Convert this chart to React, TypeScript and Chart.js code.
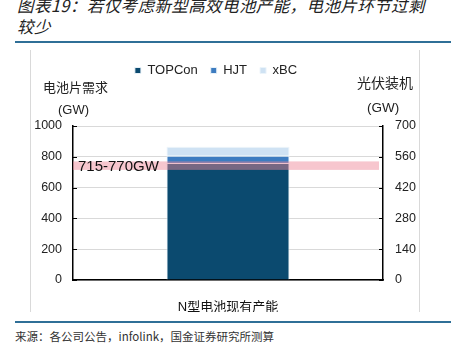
import React, { useEffect, useRef } from 'react';
import { Chart, registerables } from 'chart.js';

Chart.register(...registerables);

// ---- data ----
const categories = ['N型电池现有产能'];
const topconValues = [760];
const hjtValues = [47];
const xbcValues = [58];
const seriesNames = ['TOPCon', 'HJT', 'xBC'];
const bandRange = [715, 770];
const bandLabel = '715-770GW';
const leftAxisMax = 1000;
const leftAxisStep = 200;
const rightAxisMax = 700;
const rightAxisStep = 140;
const leftTitle = ['电池片需求', '(GW)'];
const rightTitle = ['光伏装机', '(GW)'];
const titleLines = ['图表19：若仅考虑新型高效电池产能，电池片环节过剩', '较少'];
const sourceText = '来源：各公司公告，infolink，国金证券研究所测算';

const FONT = '"Liberation Sans", "Noto Sans CJK SC", sans-serif';
const CANVAS_LEFT = 13;
const CANVAS_TOP = 51;
const CANVAS_W = 406;
const CANVAS_H = 261;
const PLOT_LEFT = 73;
const PLOT_RIGHT = 383;
const PLOT_TOP = 126;
const PLOT_BOTTOM = 280;

const overlayPlugin = {
  id: 'overlay',
  afterDatasetsDraw(chart: any) {
    const { ctx, chartArea, scales } = chart;
    const y = scales.y;
    const top = y.getPixelForValue(bandRange[1]);
    const bottom = y.getPixelForValue(bandRange[0]);
    ctx.save();
    ctx.fillStyle = 'rgba(238,135,152,0.48)';
    ctx.fillRect(chartArea.left, top, chartArea.right - 4 - chartArea.left, bottom - top);
    ctx.fillStyle = '#111';
    ctx.font = '15px ' + FONT;
    ctx.textBaseline = 'middle';
    ctx.textAlign = 'left';
    ctx.fillText(bandLabel, chartArea.left + 5, (top + bottom) / 2 + 1);
    // inward tick marks
    ctx.strokeStyle = '#000';
    ctx.lineWidth = 1;
    for (let v = 0; v <= leftAxisMax; v += leftAxisStep) {
      const py = Math.round(y.getPixelForValue(v)) + 0.5;
      ctx.beginPath();
      ctx.moveTo(chartArea.left, py);
      ctx.lineTo(chartArea.left + 4, py);
      ctx.stroke();
    }
    const y1 = scales.y1;
    for (let v = 0; v <= rightAxisMax; v += rightAxisStep) {
      const py = Math.round(y1.getPixelForValue(v)) + 0.5;
      ctx.beginPath();
      ctx.moveTo(chartArea.right - 4, py);
      ctx.lineTo(chartArea.right, py);
      ctx.stroke();
    }
    ctx.restore();
  },
};

const legendHeightPlugin = {
  id: 'legendHeight',
  beforeInit(chart: any) {
    const origFit = chart.legend.fit;
    chart.legend.fit = function () {
      origFit.call(this);
      this.height = PLOT_TOP - CANVAS_TOP;
    };
  },
};

export default function App() {
  const ref = useRef<HTMLCanvasElement>(null);

  useEffect(() => {
    if (!ref.current) return;
    const chart = new Chart(ref.current, {
      type: 'bar',
      data: {
        labels: categories,
        datasets: [
          { label: seriesNames[0], data: topconValues, backgroundColor: '#0B4A6F', borderColor: 'rgba(235,243,250,0.95)', borderWidth: 1, yAxisID: 'y' },
          { label: seriesNames[1], data: hjtValues, backgroundColor: '#3D7CC0', borderColor: 'rgba(235,243,250,0.95)', borderWidth: 1, yAxisID: 'y' },
          { label: seriesNames[2], data: xbcValues, backgroundColor: '#CFE2F3', borderColor: 'rgba(235,243,250,0.95)', borderWidth: 1, yAxisID: 'y' },
        ],
      },
      options: {
        responsive: false,
        animation: false,
        devicePixelRatio: 1,
        layout: { padding: 0 },
        datasets: { bar: { categoryPercentage: 1, barPercentage: 0.397 } },
        plugins: {
          tooltip: { enabled: false },
          legend: {
            position: 'top',
            labels: {
              boxWidth: 6,
              boxHeight: 6,
              padding: 13,
              color: '#222',
              font: { size: 13, family: FONT },
            },
          },
        },
        scales: {
          x: {
            stacked: true,
            grid: { display: false },
            border: { display: true, color: '#000', width: 1.5 },
            ticks: { color: '#111', padding: 12, font: { size: 13, family: FONT } },
            afterFit(scale: any) {
              scale.height = CANVAS_TOP + CANVAS_H - PLOT_BOTTOM;
            },
          },
          y: {
            stacked: true,
            position: 'left',
            min: 0,
            max: leftAxisMax,
            ticks: {
              stepSize: leftAxisStep,
              color: '#222',
              padding: 11,
              font: { size: 12.5, family: FONT },
              callback: (v: any) => String(v),
            },
            grid: { color: '#D9D9D9', lineWidth: 1, drawTicks: false },
            border: { display: true, color: '#000', width: 1.5 },
            afterFit(scale: any) {
              scale.width = PLOT_LEFT - CANVAS_LEFT;
            },
          },
          y1: {
            position: 'right',
            min: 0,
            max: rightAxisMax,
            ticks: {
              stepSize: rightAxisStep,
              color: '#222',
              padding: 12,
              font: { size: 12.5, family: FONT },
              callback: (v: any) => String(v),
            },
            grid: { display: false, drawTicks: false },
            border: { display: true, color: '#000', width: 1.5 },
            afterFit(scale: any) {
              scale.width = CANVAS_LEFT + CANVAS_W - PLOT_RIGHT;
            },
          },
        },
      },
      plugins: [legendHeightPlugin, overlayPlugin],
    } as any);
    return () => chart.destroy();
  }, []);

  const txt = (s: string, style: React.CSSProperties) => (
    <div style={{ position: 'absolute', whiteSpace: 'nowrap', fontFamily: FONT, color: '#222', lineHeight: '16px', ...style }}>{s}</div>
  );

  return (
    <div style={{ position: 'fixed', left: 0, top: 0, width: 451, height: 347, background: '#fff', overflow: 'hidden' }}>
      <div
        style={{
          position: 'absolute',
          left: 17,
          top: -5,
          fontFamily: '"Noto Sans CJK SC", sans-serif',
          fontStyle: 'italic',
          fontWeight: 400,
          fontSize: 16.5,
          lineHeight: '21px',
          color: '#222',
          whiteSpace: 'nowrap',
          letterSpacing: 0.4,
        }}
      >
        {titleLines[0]}
        <br />
        {titleLines[1]}
      </div>
      <div style={{ position: 'absolute', left: 15, top: 41, width: 436, height: 2, background: '#2F6F97' }} />
      <div style={{ position: 'absolute', left: 30, top: 50, width: 1, height: 262, background: '#D9D9D9' }} />
      <div style={{ position: 'absolute', left: 419, top: 50, width: 1, height: 262, background: '#D9D9D9' }} />
      <canvas
        ref={ref}
        width={CANVAS_W}
        height={CANVAS_H}
        style={{ position: 'absolute', left: CANVAS_LEFT, top: CANVAS_TOP, width: CANVAS_W, height: CANVAS_H }}
      />
      {txt(leftTitle[0], { left: 43, top: 80, fontSize: 13 })}
      {txt(leftTitle[1], { left: 58, top: 102, fontSize: 13 })}
      {txt(rightTitle[0], { left: 357, top: 75, fontSize: 14 })}
      {txt(rightTitle[1], { left: 367, top: 100, fontSize: 13.5 })}
      <div style={{ position: 'absolute', left: 15, top: 321, width: 436, height: 2, background: '#2F6F97' }} />
      {txt(sourceText, { left: 15, top: 328, fontSize: 11.5, color: '#333', fontFamily: '"Noto Sans CJK SC", sans-serif' })}
    </div>
  );
}
